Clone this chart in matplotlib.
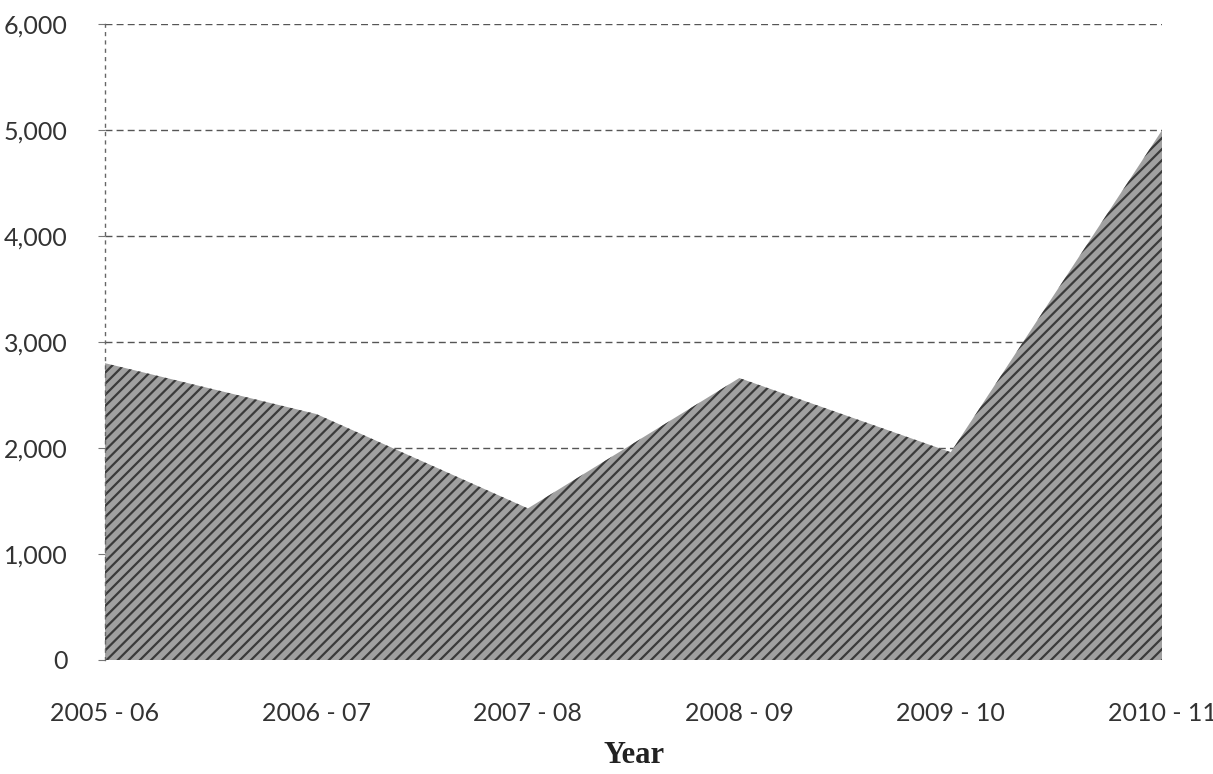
import matplotlib.pyplot as plt
import matplotlib as mpl

years = ['2005 - 06', '2006 - 07', '2007 - 08', '2008 - 09', '2009 - 10', '2010 - 11']
values = [2800, 2320, 1430, 2660, 1960, 5000]
yticks = [0, 1000, 2000, 3000, 4000, 5000, 6000]

mpl.rcParams['hatch.color'] = '#3a3a3a'
mpl.rcParams['hatch.linewidth'] = 1.6

fig = plt.figure(figsize=(12.13, 7.74), dpi=100, facecolor='white')
ax = fig.add_axes([0.0866, 0.1473, 0.8715, 0.8217])

x = list(range(len(years)))
ax.fill_between(x, 0, values, facecolor='#a0a0a0', edgecolor='#3a3a3a',
                hatch='///', linewidth=0, zorder=2)

ax.set_xlim(0, len(years) - 1)
ax.set_ylim(0, 6000)
ax.set_yticks(yticks)
ax.set_yticklabels([f'{v:,}' for v in yticks], fontfamily='Lato', fontsize=18, color='#333333')
ax.set_xticks(x)
ax.set_xticklabels(years, fontfamily='Lato', fontsize=18, color='#333333')
ax.tick_params(axis='x', length=0, pad=30)
ax.tick_params(axis='y', length=5, color='#777777', pad=22)

for v in yticks[1:]:
    ax.axhline(v, color='#555555', linestyle=(0, (5, 3)), linewidth=1.0, zorder=1)

for s in ['top', 'right', 'bottom']:
    ax.spines[s].set_visible(False)
ax.spines['left'].set_linestyle((0, (2, 4)))
ax.spines['left'].set_color('#666666')
ax.spines['left'].set_linewidth(1.0)

ax.set_xlabel('Year', fontfamily='Liberation Serif', fontweight='bold', fontsize=22,
              color='#222222', labelpad=12)

plt.savefig('out.png', dpi=100, facecolor=fig.get_facecolor())
